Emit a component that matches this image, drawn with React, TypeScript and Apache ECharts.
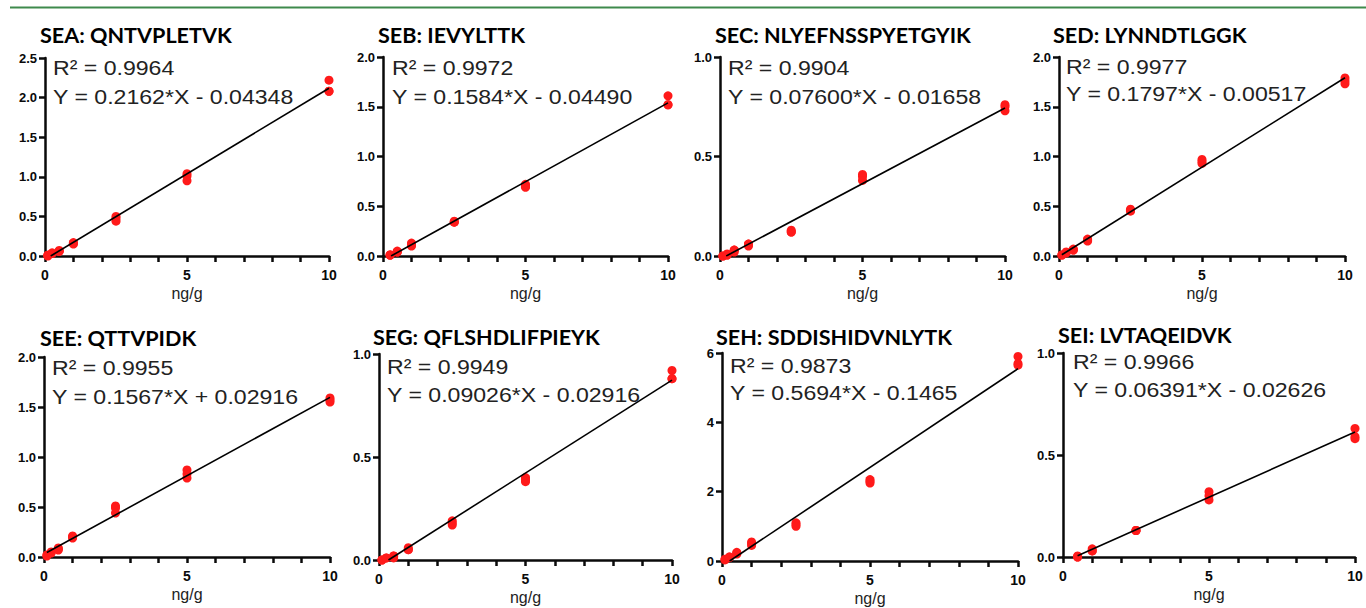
import React, { useEffect, useRef } from "react";
import * as echarts from "echarts";

const titles = [
  "SEA: QNTVPLETVK",
  "SEB: IEVYLTTK",
  "SEC: NLYEFNSSPYETGYIK",
  "SED: LYNNDTLGGK",
  "SEE: QTTVPIDK",
  "SEG: QFLSHDLIFPIEYK",
  "SEH: SDDISHIDVNLYTK",
  "SEI: LVTAQEIDVK",
];
const r2Labels = ["0.9964", "0.9972", "0.9904", "0.9977", "0.9955", "0.9949", "0.9873", "0.9966"];
const eqLabels = [
  "Y = 0.2162*X - 0.04348",
  "Y = 0.1584*X - 0.04490",
  "Y = 0.07600*X - 0.01658",
  "Y = 0.1797*X - 0.00517",
  "Y = 0.1567*X + 0.02916",
  "Y = 0.09026*X - 0.02916",
  "Y = 0.5694*X - 0.1465",
  "Y = 0.06391*X - 0.02626",
];
const slopes = [0.2162, 0.1584, 0.076, 0.1797, 0.1567, 0.09026, 0.5694, 0.06391];
const intercepts = [-0.04348, -0.0449, -0.01658, -0.00517, 0.02916, -0.02916, -0.1465, -0.02626];
const yMax = [2.5, 2.0, 1.0, 2.0, 2.0, 1.0, 6, 1.0];
const yStep = [0.5, 0.5, 0.5, 0.5, 0.5, 0.5, 2, 0.5];
const yDecimals = [1, 1, 1, 1, 1, 1, 0, 1];

// concentration (ng/g) and measured responses (replicates)
const seaPts = [
  [0.1, 0.01], [0.1, 0.01], [0.1, 0.0], [0.25, 0.04], [0.25, 0.03], [0.25, 0.03],
  [0.5, 0.07], [0.5, 0.06], [0.5, 0.06], [1, 0.17], [1, 0.16], [1, 0.15],
  [2.5, 0.5], [2.5, 0.47], [2.5, 0.44], [5, 1.04], [5, 1.01], [5, 0.95],
  [10, 2.22], [10, 2.08], [10, 2.08],
];
const sebPts = [
  [0.25, 0.01], [0.25, 0.01], [0.25, 0.01], [0.5, 0.05], [0.5, 0.04], [0.5, 0.04],
  [1, 0.13], [1, 0.11], [1, 0.1], [2.5, 0.35], [2.5, 0.34], [2.5, 0.34],
  [5, 0.72], [5, 0.7], [5, 0.69], [10, 1.61], [10, 1.52], [10, 1.52],
];
const secPts = [
  [0.1, 0.0], [0.1, 0.0], [0.25, 0.01], [0.25, 0.005], [0.25, 0.005],
  [0.5, 0.03], [0.5, 0.03], [0.5, 0.02], [1, 0.06], [1, 0.06], [1, 0.05],
  [2.5, 0.13], [2.5, 0.12], [2.5, 0.12], [5, 0.41], [5, 0.4], [5, 0.38],
  [10, 0.76], [10, 0.75], [10, 0.73],
];
const sedPts = [
  [0.1, 0.01], [0.1, 0.01], [0.25, 0.04], [0.25, 0.03], [0.5, 0.07], [0.5, 0.06], [0.5, 0.06],
  [1, 0.17], [1, 0.16], [1, 0.15], [2.5, 0.47], [2.5, 0.46], [2.5, 0.45],
  [5, 0.97], [5, 0.95], [5, 0.93], [10, 1.79], [10, 1.76], [10, 1.73],
];
const seePts = [
  [0.1, 0.02], [0.1, 0.01], [0.25, 0.05], [0.25, 0.04], [0.5, 0.09], [0.5, 0.08], [0.5, 0.07],
  [1, 0.21], [1, 0.2], [1, 0.19], [2.5, 0.51], [2.5, 0.49], [2.5, 0.44],
  [5, 0.87], [5, 0.83], [5, 0.79], [10, 1.59], [10, 1.57], [10, 1.55],
];
const segPts = [
  [0.1, 0.0], [0.1, 0.0], [0.25, 0.01], [0.25, 0.01], [0.5, 0.02], [0.5, 0.02], [0.5, 0.01],
  [1, 0.06], [1, 0.05], [1, 0.05], [2.5, 0.19], [2.5, 0.18], [2.5, 0.17],
  [5, 0.4], [5, 0.39], [5, 0.38], [10, 0.92], [10, 0.88], [10, 0.88],
];
const sehPts = [
  [0.1, 0.05], [0.1, 0.03], [0.25, 0.12], [0.25, 0.1], [0.5, 0.25], [0.5, 0.22], [0.5, 0.2],
  [1, 0.55], [1, 0.5], [1, 0.45], [2.5, 1.1], [2.5, 1.05], [2.5, 1.0],
  [5, 2.35], [5, 2.3], [5, 2.25], [10, 5.9], [10, 5.7], [10, 5.65],
];
const seiPts = [
  [0.5, 0.005], [0.5, 0.0], [0.5, 0.0], [1, 0.04], [1, 0.03], [1, 0.03],
  [2.5, 0.13], [2.5, 0.13], [2.5, 0.13], [5, 0.32], [5, 0.3], [5, 0.28],
  [10, 0.63], [10, 0.59], [10, 0.58],
];
const allPts = [seaPts, sebPts, secPts, sedPts, seePts, segPts, sehPts, seiPts];

// layout (pixels)
const grids = [
  { l: 45, r: 329, t: 58, b: 256 },
  { l: 383, r: 668, t: 57, b: 256 },
  { l: 720, r: 1005, t: 57, b: 256 },
  { l: 1059, r: 1345, t: 57, b: 256 },
  { l: 44, r: 330, t: 357, b: 557 },
  { l: 379, r: 672, t: 354, b: 560 },
  { l: 722, r: 1018, t: 353, b: 561 },
  { l: 1063, r: 1355, t: 353, b: 557 },
];
const titlePos = [
  [40, 35], [378, 35], [715, 35], [1053, 35],
  [40, 338], [373, 337], [716, 337], [1058, 335],
];
const textPos = [
  [53, 68, 97], [392, 68, 97], [728, 68, 97], [1066, 67, 94],
  [52, 368, 397], [387, 367, 395], [730, 366, 393], [1073, 362, 390],
];

const W = 1366;
const H = 608;
const FONT = "'Liberation Sans', Arial, sans-serif";
const INK = "rgb(10,10,10)";

function mkAxisLine() {
  return { show: true, onZero: false, lineStyle: { color: INK, width: 2.5, opacity: 1 } };
}
function mkAxisTick() {
  return { show: true, inside: false, length: 6, lineStyle: { color: INK, width: 2.5, opacity: 1 } };
}

export default function App() {
  const ref = useRef<HTMLDivElement>(null);
  useEffect(() => {
    if (!ref.current) return;
    const chart = echarts.init(ref.current, undefined, { renderer: "svg" });
    const gridOpt: any[] = [];
    const xAxes: any[] = [];
    const yAxes: any[] = [];
    const series: any[] = [];
    const graphics: any[] = [
      {
        type: "line",
        shape: { x1: 10, y1: 7.5, x2: W, y2: 7.5 },
        style: { stroke: "#3f8a4c", lineWidth: 2 },
      },
    ];
    for (let i = 0; i < 8; i++) {
      const g = grids[i];
      gridOpt.push({ left: g.l, width: g.r - g.l, top: g.t, height: g.b - g.t, containLabel: false, show: false });
      xAxes.push({
        type: "value",
        gridIndex: i,
        position: "bottom",
        min: 0,
        max: 10,
        interval: 1,
        axisLine: mkAxisLine(),
        axisTick: mkAxisTick(),
        minorTick: { show: false },
        splitLine: { show: false },
        axisLabel: {
          show: true,
          margin: 12,
          color: INK,
          fontWeight: "bold",
          fontSize: 14,
          fontFamily: FONT,
          formatter: (v: number) => (v % 5 === 0 ? String(v) : ""),
        },
        name: "ng/g",
        nameLocation: "middle",
        nameGap: 29,
        nameTextStyle: { color: "#222", fontSize: 16, fontFamily: FONT },
      });
      const dec = yDecimals[i];
      yAxes.push({
        type: "value",
        gridIndex: i,
        position: "left",
        min: 0,
        max: yMax[i],
        interval: yStep[i],
        axisLine: mkAxisLine(),
        axisTick: mkAxisTick(),
        splitLine: { show: false },
        axisLabel: {
          show: true,
          margin: 8,
          color: INK,
          fontWeight: "bold",
          fontSize: 13,
          fontFamily: FONT,
          formatter: (v: number) => v.toFixed(dec),
        },
      });
      const a = slopes[i];
      const b = intercepts[i];
      const xs = allPts[i].map((p) => p[0]);
      const xMin = Math.min(...xs);
      const x0 = Math.max(xMin, -b / a);
      series.push({
        type: "line",
        xAxisIndex: i,
        yAxisIndex: i,
        data: [
          [x0, a * x0 + b],
          [10, a * 10 + b],
        ],
        symbol: "none",
        lineStyle: { color: "#000", width: 1.6 },
        z: 3,
      });
      series.push({
        type: "scatter",
        xAxisIndex: i,
        yAxisIndex: i,
        data: allPts[i],
        symbol: "circle",
        symbolSize: 9,
        itemStyle: { color: "#ff1a1a", opacity: 1 },
        clip: false,
        z: 2,
      });
      graphics.push({
        type: "text",
        x: titlePos[i][0],
        y: titlePos[i][1],
        scaleX: 1.08,
        style: {
          text: titles[i],
          font: "bold 20px Lato, 'Open Sans', sans-serif",
          fill: "#000",
          verticalAlign: "middle",
        },
      });
      graphics.push({
        type: "text",
        x: textPos[i][0],
        y: textPos[i][1],
        scaleX: 1.1,
        style: {
          text: "R² = " + r2Labels[i],
          font: "21px " + FONT,
          fill: "#222",
          verticalAlign: "middle",
        },
      });
      graphics.push({
        type: "text",
        x: textPos[i][0],
        y: textPos[i][2],
        scaleX: 1.1,
        style: {
          text: eqLabels[i],
          font: "21px " + FONT,
          fill: "#222",
          verticalAlign: "middle",
        },
      });
    }
    chart.setOption({
      animation: false,
      backgroundColor: "#ffffff",
      grid: gridOpt,
      xAxis: xAxes,
      yAxis: yAxes,
      series,
      graphic: graphics,
    });
    return () => chart.dispose();
  }, []);
  return (
    <div
      ref={ref}
      style={{ position: "fixed", left: 0, top: 0, width: W, height: H, background: "#fff" }}
    />
  );
}
